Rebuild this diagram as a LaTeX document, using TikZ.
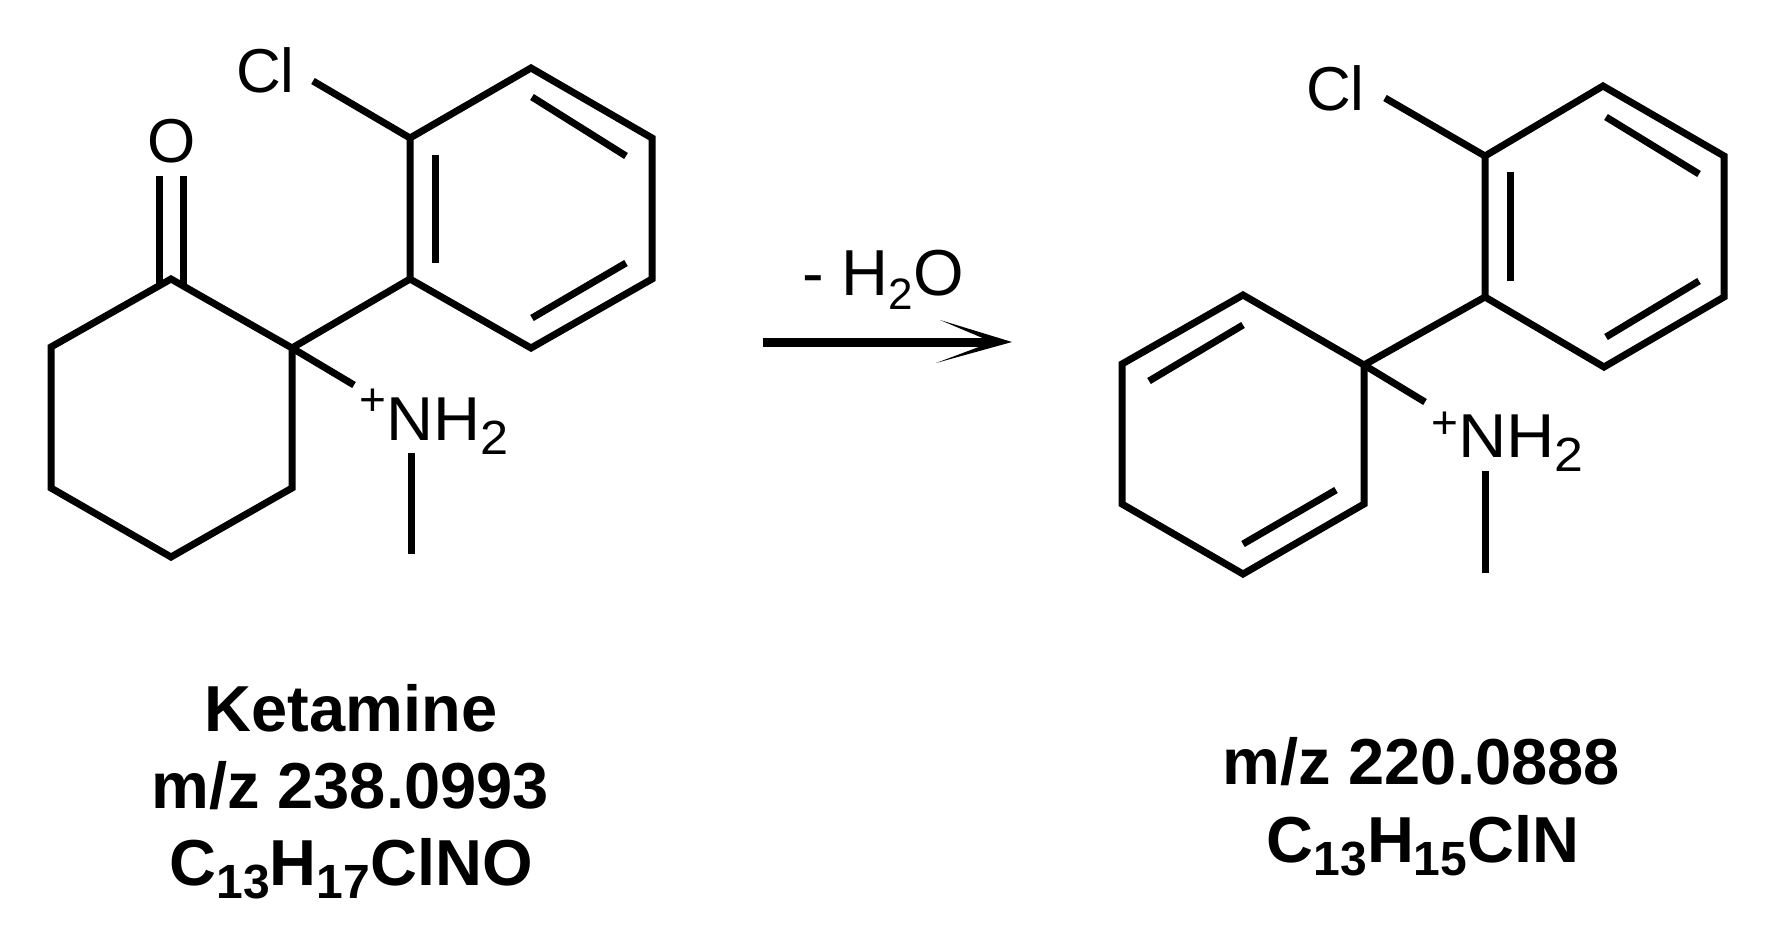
\documentclass[tikz,border=0pt]{standalone}
\usepackage{fontspec}
\usepackage{graphicx}
\setmainfont{Liberation Sans}
\newcommand{\atomfont}{\fontsize{62}{62}\selectfont}
\newcommand{\plusfont}{\fontsize{46}{46}\selectfont}
\newcommand{\atomsub}[1]{\raisebox{-14pt}{\fontsize{48}{48}\selectfont #1}}
\newcommand{\capfont}{\fontsize{65}{65}\selectfont\bfseries}
\newcommand{\capsub}[1]{\raisebox{-13pt}{\fontsize{48}{48}\selectfont #1}}
\begin{document}
\begin{tikzpicture}[x=1pt,y=-1pt,
  bond/.style={line width=7pt,line join=miter,line cap=butt,black},
  atomlabel/.style={inner sep=0pt,outer sep=0pt,font=\atomfont,anchor=base west},
  caplabel/.style={inner sep=0pt,outer sep=0pt,font=\capfont,anchor=base}]
\useasboundingbox (0,0) rectangle (1784,932);
\fill[white] (0,0) rectangle (1784,932);
% left molecule atoms
\coordinate (a1) at (531,68);
\coordinate (a2) at (410,138);
\coordinate (a3) at (410,279);
\coordinate (a4) at (531,348);
\coordinate (a5) at (652,279);
\coordinate (a6) at (652,138);
\coordinate (q1) at (292,348);
\coordinate (c1) at (171,279);
\coordinate (c2) at (51,347);
\coordinate (c3) at (51,488);
\coordinate (c4) at (171,557);
\coordinate (c5) at (292,488);
\coordinate (clA) at (313,81);
\coordinate (nA) at (354,385);
\coordinate (meA1) at (411,453);
\coordinate (meA2) at (411,554);
\coordinate (oA1) at (159,176);
\coordinate (oA1b) at (159,285);
\coordinate (oA2) at (183,176);
\coordinate (oA2b) at (183,285);
\coordinate (i1) at (435,155);
\coordinate (i2) at (435,263);
\coordinate (i3) at (532,97);
\coordinate (i4) at (626,156);
\coordinate (i5) at (532,318);
\coordinate (i6) at (626,263);
\draw[bond] (a1)--(a2)--(a3)--(a4)--(a5)--(a6)--cycle;
\draw[bond] (q1)--(c1)--(c2)--(c3)--(c4)--(c5)--cycle;
\draw[bond] (q1)--(a3);
\draw[bond] (q1)--(nA);
\draw[bond] (clA)--(a2);
\draw[bond] (meA1)--(meA2);
\draw[bond] (oA1)--(oA1b);
\draw[bond] (oA2)--(oA2b);
\draw[bond] (i1)--(i2);
\draw[bond] (i3)--(i4);
\draw[bond] (i5)--(i6);
\node[atomlabel] (ClA) at (236,92) {Cl};
\node[atomlabel] (OA) at (147,162) {O};
\node[atomlabel,font=\plusfont] (plusA) at (359,415) {+};
\node[atomlabel] (NHA) at (386,440) {\scalebox{1.05}[1]{NH\atomsub{2}}};
% arrow
\coordinate (arS) at (763,342);
\coordinate (arT) at (1012,342);
\coordinate (arB1) at (940,320);
\coordinate (arB2) at (936,363);
\coordinate (arN) at (992,342);
\draw[line width=9pt,black] (arS)--(arN);
\fill[black] (arB1)--(arT)--(arB2)--(arN)--cycle;
\node[atomlabel,font=\fontsize{65}{65}\selectfont] (HtO) at (802,295) {- H\raisebox{-14pt}{\fontsize{44}{44}\selectfont 2}O};
% right molecule atoms
\coordinate (b1) at (1603,86);
\coordinate (b2) at (1485,156);
\coordinate (b3) at (1485,297);
\coordinate (b4) at (1604,367);
\coordinate (b5) at (1724,297);
\coordinate (b6) at (1724,156);
\coordinate (q2) at (1364,365);
\coordinate (d1) at (1243,295);
\coordinate (d2) at (1122,364);
\coordinate (d3) at (1122,504);
\coordinate (d4) at (1243,574);
\coordinate (d5) at (1364,504);
\coordinate (clB) at (1385,98);
\coordinate (nB) at (1425,402);
\coordinate (meB1) at (1485,471);
\coordinate (meB2) at (1485,573);
\coordinate (j1) at (1510,172);
\coordinate (j2) at (1510,281);
\coordinate (j3) at (1606,117);
\coordinate (j4) at (1699,174);
\coordinate (j5) at (1606,337);
\coordinate (j6) at (1699,281);
\coordinate (j7) at (1149,381);
\coordinate (j8) at (1243,325);
\coordinate (j9) at (1243,544);
\coordinate (j10) at (1336,490);
\draw[bond] (b1)--(b2)--(b3)--(b4)--(b5)--(b6)--cycle;
\draw[bond] (q2)--(d1)--(d2)--(d3)--(d4)--(d5)--cycle;
\draw[bond] (q2)--(b3);
\draw[bond] (q2)--(nB);
\draw[bond] (clB)--(b2);
\draw[bond] (meB1)--(meB2);
\draw[bond] (j1)--(j2);
\draw[bond] (j3)--(j4);
\draw[bond] (j5)--(j6);
\draw[bond] (j7)--(j8);
\draw[bond] (j9)--(j10);
\node[atomlabel] (ClB) at (1306,110) {Cl};
\node[atomlabel,font=\plusfont] (plusB) at (1431,438) {+};
\node[atomlabel] (NHB) at (1458,457) {\scalebox{1.08}[1]{NH\atomsub{2}}};
% captions
\node[caplabel] (k1) at (351,731) {Ketamine};
\node[caplabel] (k2) at (350,808) {m/z 238.0993};
\node[caplabel] (k3) at (351,885) {C\capsub{13}H\capsub{17}ClNO};
\node[caplabel] (m1) at (1421,784) {m/z 220.0888};
\node[caplabel] (m2) at (1423,862) {C\capsub{13}H\capsub{15}ClN};
\end{tikzpicture}
\end{document}
